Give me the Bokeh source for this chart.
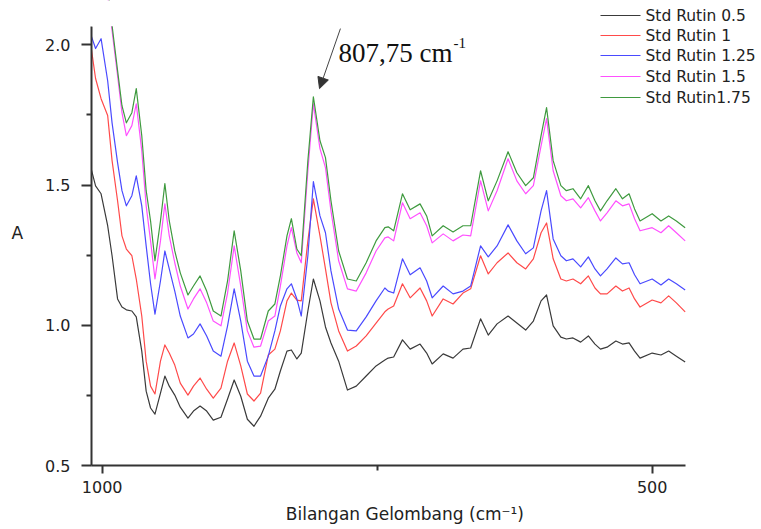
from bokeh.plotting import figure
from bokeh.models import Range1d, FixedTicker, Label, Arrow, NormalHead, BoxAnnotation
from bokeh.core.properties import value
from bokeh.embed import file_html
from bokeh.resources import INLINE

# Wavenumber grid (cm-1)
wavenumber = [1010, 1006, 1001, 995, 991, 986, 982, 978, 973, 969,
              964, 960, 956, 952, 947, 943, 939, 934, 929, 922,
              917, 911, 905, 899, 892, 886, 880, 874, 868, 862,
              856, 849, 843, 838, 832, 828, 823, 819, 813, 808,
              802, 797, 792, 785, 777, 769, 760, 751, 743, 740,
              735, 727, 720, 711, 705, 700, 690, 681, 672, 665,
              656, 649, 641, 631, 623, 615, 608, 601, 596, 590,
              583, 578, 572, 565, 558, 552, 547, 541, 533, 527,
              521, 516, 511, 500, 492, 485, 478, 470]

std_0_5 = [1.558, 1.497, 1.469, 1.355, 1.248, 1.094, 1.065, 1.055, 1.051, 1.030,
           0.908, 0.765, 0.705, 0.683, 0.758, 0.819, 0.783, 0.751, 0.708, 0.669,
           0.694, 0.712, 0.694, 0.662, 0.672, 0.737, 0.805, 0.747, 0.665, 0.640,
           0.676, 0.740, 0.772, 0.837, 0.908, 0.912, 0.880, 0.901, 1.051, 1.165,
           1.087, 0.994, 0.937, 0.872, 0.769, 0.783, 0.819, 0.855, 0.876, 0.883,
           0.887, 0.948, 0.915, 0.933, 0.901, 0.862, 0.898, 0.883, 0.915, 0.919,
           1.023, 0.965, 1.005, 1.033, 1.008, 0.983, 1.015, 1.087, 1.108, 0.998,
           0.958, 0.951, 0.955, 0.940, 0.962, 0.933, 0.915, 0.922, 0.944, 0.933,
           0.937, 0.908, 0.883, 0.901, 0.894, 0.908, 0.890, 0.869]

std_1 = [1.990, 1.880, 1.808, 1.748, 1.587, 1.444, 1.319, 1.272, 1.248, 1.165,
         1.033, 0.872, 0.783, 0.755, 0.872, 0.930, 0.901, 0.858, 0.794, 0.751,
         0.783, 0.812, 0.772, 0.740, 0.776, 0.872, 0.937, 0.855, 0.755, 0.730,
         0.758, 0.894, 0.915, 0.980, 1.087, 1.115, 1.090, 1.087, 1.301, 1.451,
         1.319, 1.201, 1.080, 0.980, 0.908, 0.926, 0.962, 1.008, 1.048, 1.058,
         1.069, 1.148, 1.098, 1.133, 1.087, 1.033, 1.094, 1.076, 1.115, 1.130,
         1.248, 1.183, 1.223, 1.258, 1.223, 1.201, 1.237, 1.330, 1.365, 1.237,
         1.165, 1.158, 1.165, 1.148, 1.176, 1.133, 1.112, 1.112, 1.140, 1.122,
         1.133, 1.094, 1.065, 1.090, 1.080, 1.105, 1.080, 1.048]

std_1_25 = [2.033, 1.987, 2.022, 1.872, 1.722, 1.580, 1.480, 1.426, 1.462, 1.533,
            1.426, 1.283, 1.148, 1.040, 1.158, 1.265, 1.201, 1.122, 1.033, 0.955,
            0.969, 1.005, 0.962, 0.908, 0.890, 0.998, 1.130, 1.015, 0.872, 0.819,
            0.819, 0.890, 0.980, 1.069, 1.130, 1.148, 1.094, 1.033, 1.248, 1.512,
            1.390, 1.330, 1.194, 1.058, 0.983, 0.980, 1.030, 1.087, 1.133, 1.122,
            1.115, 1.237, 1.180, 1.205, 1.158, 1.098, 1.140, 1.112, 1.122, 1.140,
            1.283, 1.244, 1.283, 1.358, 1.301, 1.255, 1.276, 1.408, 1.480, 1.308,
            1.248, 1.230, 1.237, 1.208, 1.244, 1.201, 1.176, 1.201, 1.240, 1.219,
            1.223, 1.180, 1.148, 1.165, 1.144, 1.165, 1.148, 1.126]

std_1_5 = [2.515, 2.426, 2.319, 2.176, 2.051, 1.890, 1.758, 1.676, 1.712, 1.790,
           1.622, 1.426, 1.301, 1.165, 1.301, 1.433, 1.319, 1.223, 1.140, 1.058,
           1.094, 1.130, 1.080, 1.015, 0.998, 1.115, 1.283, 1.140, 0.980, 0.922,
           0.926, 1.015, 1.033, 1.140, 1.283, 1.348, 1.258, 1.223, 1.551, 1.790,
           1.630, 1.562, 1.408, 1.230, 1.130, 1.122, 1.187, 1.265, 1.312, 1.315,
           1.301, 1.437, 1.380, 1.401, 1.355, 1.294, 1.326, 1.301, 1.322, 1.319,
           1.515, 1.408, 1.480, 1.594, 1.515, 1.469, 1.498, 1.640, 1.737, 1.551,
           1.462, 1.444, 1.451, 1.419, 1.455, 1.408, 1.372, 1.401, 1.444, 1.426,
           1.433, 1.380, 1.337, 1.348, 1.330, 1.355, 1.330, 1.301]

std_1_75 = [2.551, 2.462, 2.355, 2.212, 2.069, 1.908, 1.783, 1.722, 1.758, 1.844,
            1.676, 1.480, 1.372, 1.230, 1.372, 1.505, 1.372, 1.265, 1.187, 1.108,
            1.140, 1.176, 1.122, 1.051, 1.033, 1.158, 1.337, 1.194, 1.015, 0.951,
            0.951, 1.051, 1.076, 1.176, 1.319, 1.380, 1.272, 1.248, 1.587, 1.815,
            1.658, 1.598, 1.444, 1.265, 1.165, 1.158, 1.223, 1.301, 1.348, 1.351,
            1.337, 1.469, 1.412, 1.433, 1.390, 1.319, 1.355, 1.333, 1.355, 1.355,
            1.551, 1.444, 1.515, 1.619, 1.544, 1.498, 1.526, 1.676, 1.776, 1.587,
            1.498, 1.480, 1.487, 1.451, 1.498, 1.444, 1.408, 1.444, 1.487, 1.451,
            1.469, 1.415, 1.372, 1.398, 1.372, 1.390, 1.372, 1.348]

series_names = ["Std Rutin 0.5", "Std Rutin 1", "Std Rutin 1.25", "Std Rutin 1.5", "Std Rutin1.75"]
series_values = [std_0_5, std_1, std_1_25, std_1_5, std_1_75]
series_colors = ["#3a3a3a", "#ff4a4a", "#4a4aff", "#ff50ff", "#3f9a3f"]

x_ticks = [1000, 500]
x_tick_labels = ["1000", "500"]
x_minor = [750]
y_ticks = [0.5, 1.0, 1.5, 2.0]
y_tick_labels = ["0.5", "1.0", "1.5", "2.0"]
y_minor = [0.75, 1.25, 1.75]

x_axis_extent = (469.7, 1009.7)   # drawn part of the wavenumber axis
y_axis_extent = (0.5, 2.066)      # drawn part of the absorbance axis

peak_label = "807,75 cm"
peak_sup = "-1"

# frame geometry (pixels) used to place the legend
X_START, X_END = 1009.7, 400.6
Y_START, Y_END = 0.5, 2.1582
FRAME_W, FRAME_H = 670, 465

def px_to_x(px):
    return X_START + (X_END - X_START) * px / FRAME_W

def px_to_y(py_from_top):
    return Y_END - (Y_END - Y_START) * py_from_top / FRAME_H

p = figure(width=761, height=529, output_backend="svg", toolbar_location=None,
           x_range=Range1d(X_START, X_END), y_range=Range1d(Y_START, Y_END),
           min_border_left=91, min_border_right=0, min_border_top=0, min_border_bottom=64)
p.outline_line_color = None
p.grid.visible = False
p.background_fill_color = "white"
p.border_fill_color = "white"

for vals, col in zip(series_values, series_colors):
    p.line(wavenumber, vals, line_color=col, line_width=1.2, line_join="round")

# hide the part of the spectra above the top of the absorbance axis
p.add_layout(BoxAnnotation(bottom=y_axis_extent[1], left=X_START, right=600,
                           fill_color="white", fill_alpha=1.0, line_alpha=0))

# legend (top right)
leg_rows = [15, 35, 55, 76, 97]
leg_x0, leg_x1, leg_tx = px_to_x(509), px_to_x(549), px_to_x(554)
leg_y = [px_to_y(r) for r in leg_rows]
p.segment(x0=[leg_x0] * 5, x1=[leg_x1] * 5, y0=leg_y, y1=leg_y,
          line_color=series_colors, line_width=1.2)
p.text(x=[leg_tx] * 5, y=leg_y, text=series_names, text_font=value("DejaVu Sans"),
       text_font_size="15.5px", text_color="#222222", text_baseline="middle",
       text_align="left")

for ax in (p.xaxis[0], p.yaxis[0]):
    ax.axis_line_color = "#333333"
    ax.axis_line_width = 2
    ax.major_tick_line_color = "#333333"
    ax.major_tick_line_width = 2
    ax.minor_tick_line_color = "#333333"
    ax.minor_tick_line_width = 2
    ax.major_tick_in = 0
    ax.minor_tick_in = 0
    ax.major_label_text_font = "DejaVu Sans"
    ax.major_label_text_font_size = "16px"
    ax.major_label_text_color = "#222222"
    ax.axis_label_text_font = "DejaVu Sans"
    ax.axis_label_text_font_size = "17px"
    ax.axis_label_text_font_style = "normal"
    ax.axis_label_text_color = "#222222"

p.xaxis.bounds = x_axis_extent
p.xaxis.ticker = FixedTicker(ticks=x_ticks, minor_ticks=x_minor)
p.xaxis.major_label_overrides = dict(zip(x_ticks, x_tick_labels))
p.xaxis.major_tick_out = 8
p.xaxis.minor_tick_out = 5
p.xaxis.major_label_standoff = 7
p.xaxis.axis_label = "Bilangan Gelombang (cm\u207b\u00b9)" + "\u00a0" * 8
p.xaxis.axis_label_standoff = 8

p.yaxis.bounds = y_axis_extent
p.yaxis.ticker = FixedTicker(ticks=y_ticks, minor_ticks=y_minor)
p.yaxis.major_label_overrides = dict(zip(y_ticks, y_tick_labels))
p.yaxis.major_tick_out = 10
p.yaxis.minor_tick_out = 5
p.yaxis.major_label_standoff = 11
p.yaxis.axis_label = "A"
p.yaxis.axis_label_orientation = "horizontal"
p.yaxis.axis_label_standoff = 19

# annotation of the 807,75 cm-1 peak
arrow_start = (783.4, 2.058)
arrow_end = (802.4, 1.844)
p.add_layout(Arrow(end=NormalHead(size=11, fill_color="#333333", line_color="#333333"),
                   x_start=arrow_start[0], y_start=arrow_start[1],
                   x_end=arrow_end[0], y_end=arrow_end[1],
                   line_color="#444444", line_width=1))
p.add_layout(Label(x=785.2, y=1.972, text=peak_label, text_font="Liberation Serif",
                   text_font_size="27px", text_color="#111111", text_baseline="alphabetic"))
p.add_layout(Label(x=680.6, y=2.005, text=peak_sup, text_font="Liberation Serif",
                   text_font_size="15px", text_color="#111111", text_baseline="alphabetic"))

open("out.html", "w").write(file_html(p, INLINE))
